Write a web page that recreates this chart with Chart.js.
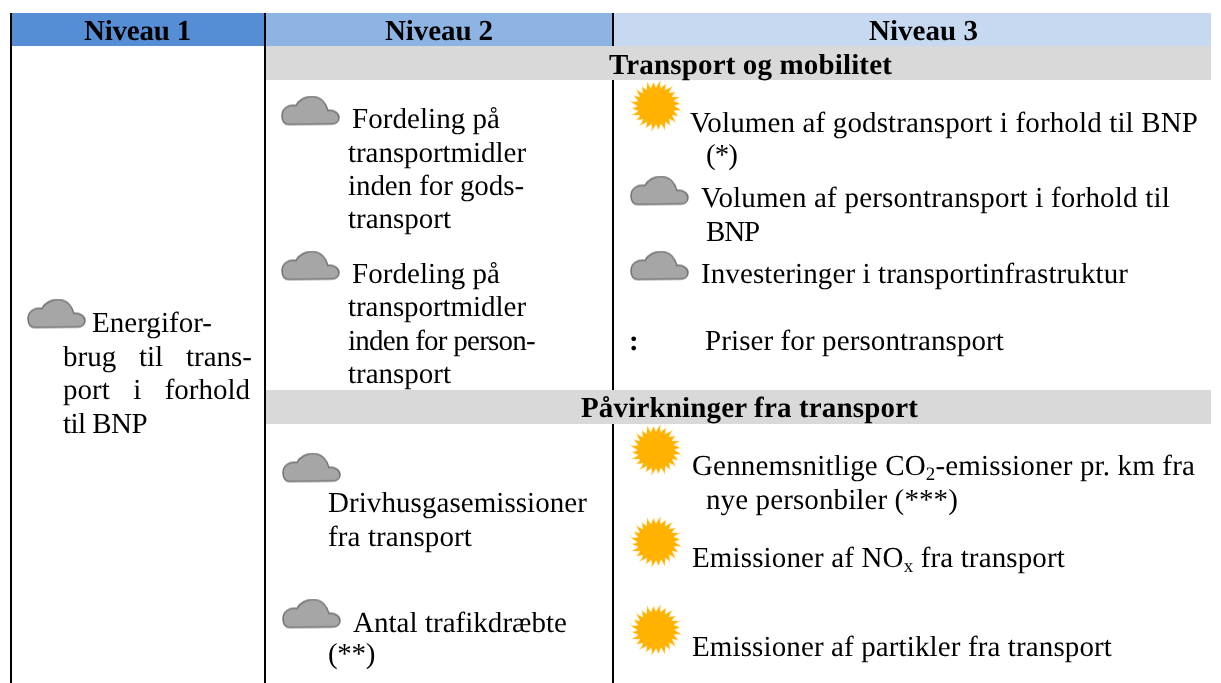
<!DOCTYPE html>
<html>
<head>
<meta charset="utf-8">
<title>Niveau 1-3</title>
<script src="https://cdn.jsdelivr.net/npm/chart.js@4/dist/chart.umd.min.js"></script>
<style>
  html, body { margin: 0; padding: 0; background: #fff; }
  canvas { display: block; }
</style>
</head>
<body>
<canvas id="chart" width="1221" height="683"></canvas>
<script>
// Table texts ("~" marks a subscript)
const headerLabels = ['Niveau 1', 'Niveau 2', 'Niveau 3']
const sectionLabels = ['Transport og mobilitet', 'Påvirkninger fra transport']
const level1Lines = ['Energifor-', 'brug til trans-', 'port i forhold', 'til BNP']
const level2Lines = [
    'Fordeling på', 'transportmidler', 'inden for gods-', 'transport',
    'Fordeling på', 'transportmidler', 'inden for person-', 'transport',
    'Drivhusgasemissioner', 'fra transport',
    'Antal trafikdræbte', '(**)'
]
const level3Lines = [
    'Volumen af godstransport i forhold til BNP', '(*)',
    'Volumen af persontransport i forhold til', 'BNP',
    'Investeringer i transportinfrastruktur',
    'Priser for persontransport',
    'Gennemsnitlige CO~2~-emissioner pr. km fra', 'nye personbiler (***)',
    'Emissioner af NO~x~ fra transport',
    'Emissioner af partikler fra transport'
]
const noDataMark = ':'

// Line positions: [x start, x end, baseline]
const headerPos = [[84, 191, 40], [385, 493, 40], [869, 978, 40]]
const sectionPos = [[609, 892, 74], [581, 918, 417]]
const level1Pos = [[92, 212, 332], [63, 252, 366], [63, 250, 399], [63, 147, 433]]
const level2Pos = [
    [352, 500, 128], [348, 526, 162], [348, 524, 195], [348, 451, 228],
    [352, 500, 283], [348, 526, 316], [348, 535, 350], [348, 451, 383],
    [328, 587, 512], [328, 472, 546],
    [353, 567, 632], [328, 375, 663]
]
const level3Pos = [
    [690, 1198, 132], [706, 737, 164],
    [701, 1170, 207], [706, 759, 241],
    [701, 1128, 283],
    [705, 1004, 350],
    [692, 1195, 475], [706, 958, 509],
    [692, 1065, 567],
    [692, 1112, 656]
]
const noDataPos = [629, 635, 350]
const justifiedLevel1 = [1, 2]

// Icon positions
const cloudX = [57, 311, 311, 312, 312, 660, 660]
const cloudY = [314, 111, 266, 468, 614, 191, 266]
const sunX = [656, 656, 656, 656]
const sunY = [106, 450, 542, 630]

// Table grid
const tableTop = 13
const tableBottom = 683
const headerBottom = 46
const section1 = [46, 80]
const section2 = [390, 424]
const ruleX = [11, 265, 613]
const headerEdges = [12, 266, 614, 1211]
const headerColors = ['#558ed5', '#8eb4e3', '#c6d9f1']
const sectionColor = '#d9d9d9'

function makeCloud() {
    const c = document.createElement('canvas')
    c.width = 60
    c.height = 31
    const g = c.getContext('2d')
    g.beginPath()
    g.moveTo(8, 29)
    g.bezierCurveTo(3, 29, 1, 25, 1, 20)
    g.bezierCurveTo(1, 13, 7, 9, 15, 10)
    g.bezierCurveTo(18, 4, 25, 1, 31, 1)
    g.bezierCurveTo(40, 1, 45, 8, 47, 15)
    g.bezierCurveTo(53, 14, 58, 18, 58, 22)
    g.bezierCurveTo(58, 26, 55, 28.5, 51, 28.5)
    g.lineTo(8, 29)
    g.closePath()
    g.fillStyle = '#a6a6a6'
    g.fill()
    g.strokeStyle = '#707070'
    g.lineWidth = 1.5
    g.stroke()
    return c
}

function makeSun() {
    const c = document.createElement('canvas')
    c.width = 56
    c.height = 56
    const g = c.getContext('2d')
    const rays = 24
    const twist = 0.07
    g.translate(28, 28)
    g.beginPath()
    for (let i = 0; i < rays; i++) {
        const a0 = i / rays * Math.PI * 2
        const a1 = (i + 0.5) / rays * Math.PI * 2
        const a2 = (i + 1) / rays * Math.PI * 2
        const tipR = i % 2 ? 24.5 : 26.5
        if (i === 0) g.moveTo(Math.cos(a0) * 18, Math.sin(a0) * 18)
        g.quadraticCurveTo(Math.cos(a0 + 0.1) * 22, Math.sin(a0 + 0.1) * 22, Math.cos(a1 + twist) * tipR, Math.sin(a1 + twist) * tipR)
        g.quadraticCurveTo(Math.cos(a1) * 22, Math.sin(a1) * 22, Math.cos(a2) * 18, Math.sin(a2) * 18)
    }
    g.closePath()
    g.fillStyle = '#ffb200'
    g.shadowColor = 'rgba(255,190,40,0.7)'
    g.shadowBlur = 2
    g.fill()
    return c
}

function band(x0, x1, y0, y1, color) {
    return {
        data: [{ x: x0, y: y0 }, { x: x1, y: y0 }],
        showLine: true,
        borderWidth: 0,
        pointRadius: 0,
        backgroundColor: color,
        fill: { value: y1 },
        order: 3
    }
}

function rule(x, y0, y1) {
    return {
        data: [{ x: x, y: y0 }, { x: x, y: y1 }],
        showLine: true,
        borderColor: '#000',
        borderWidth: 2,
        pointRadius: 0,
        fill: false,
        order: 2
    }
}

function icons(xs, ys, image) {
    return {
        data: xs.map((x, i) => ({ x: x, y: ys[i] })),
        showLine: false,
        pointStyle: image,
        order: 1
    }
}

// Draw one line, fitted to its start and end position
function drawLine(ctx, scales, text, pos, font, size, justified) {
    const x0 = scales.x.getPixelForValue(pos[0])
    const x1 = scales.x.getPixelForValue(pos[1])
    const y = scales.y.getPixelForValue(pos[2])
    const runs = text.split('~')
    const runFont = i => (i % 2 ? `${font} ${Math.round(size * 0.65)}px` : `${font} ${size}px`) + ' "Liberation Serif"'

    ctx.letterSpacing = '0px'
    ctx.wordSpacing = '0px'
    let width = 0
    runs.forEach((run, i) => {
        ctx.font = runFont(i)
        width += ctx.measureText(run).width
    })
    const spaces = text.split(' ').length - 1
    const chars = runs.join('').length
    if (justified) {
        ctx.wordSpacing = `${(x1 - x0 - width) / spaces}px`
    } else {
        ctx.letterSpacing = `${(x1 - x0 - width) / chars}px`
    }

    let x = x0
    runs.forEach((run, i) => {
        ctx.font = runFont(i)
        ctx.fillText(run, x, i % 2 ? y + 5 : y)
        x += ctx.measureText(run).width
    })
}

const tableText = {
    id: 'tableText',
    afterDatasetsDraw(chart) {
        const { ctx, scales } = chart
        ctx.save()
        ctx.fillStyle = '#000'
        ctx.textBaseline = 'alphabetic'
        ctx.textAlign = 'left'
        ctx.textRendering = 'geometricPrecision'
        headerLabels.forEach((t, i) => drawLine(ctx, scales, t, headerPos[i], 'bold', 29))
        sectionLabels.forEach((t, i) => drawLine(ctx, scales, t, sectionPos[i], 'bold', 29))
        level1Lines.forEach((t, i) => drawLine(ctx, scales, t, level1Pos[i], 'normal', 29, justifiedLevel1.includes(i)))
        level2Lines.forEach((t, i) => drawLine(ctx, scales, t, level2Pos[i], 'normal', 29))
        level3Lines.forEach((t, i) => drawLine(ctx, scales, t, level3Pos[i], 'normal', 29))
        drawLine(ctx, scales, noDataMark, noDataPos, 'bold', 29)
        ctx.restore()
    }
}

new Chart(document.getElementById('chart'), {
    type: 'scatter',
    data: {
        datasets: [
            ...headerColors.map((color, i) => band(headerEdges[i], headerEdges[i + 1], tableTop, headerBottom, color)),
            band(headerEdges[1], headerEdges[3], section1[0], section1[1], sectionColor),
            band(headerEdges[1], headerEdges[3], section2[0], section2[1], sectionColor),
            rule(ruleX[0], tableTop, tableBottom),
            rule(ruleX[1], tableTop, tableBottom),
            rule(ruleX[2], tableTop, section1[0]),
            rule(ruleX[2], section1[1], section2[0]),
            rule(ruleX[2], section2[1], tableBottom),
            icons(cloudX, cloudY, makeCloud()),
            icons(sunX, sunY, makeSun())
        ]
    },
    options: {
        responsive: false,
        animation: false,
        layout: { padding: 0, autoPadding: false },
        clip: false,
        plugins: { legend: { display: false }, tooltip: { enabled: false } },
        scales: {
            x: { type: 'linear', display: false, min: 0, max: 1221 },
            y: { type: 'linear', display: false, min: 0, max: 683, reverse: true }
        }
    },
    plugins: [tableText]
})
</script>
</body>
</html>
